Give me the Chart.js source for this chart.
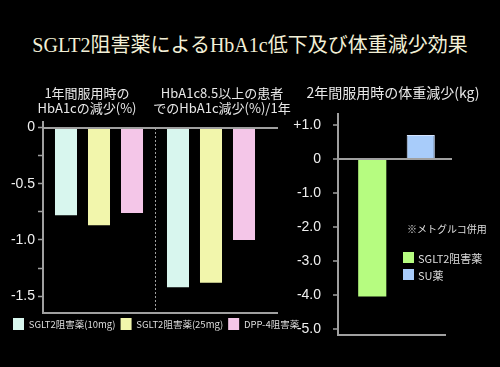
<!DOCTYPE html>
<html>
<head>
<meta charset="utf-8">
<script src="https://cdn.jsdelivr.net/npm/chart.js@4"></script>
<style>
  body { margin: 0; background: #000; width: 500px; height: 367px; position: relative; overflow: hidden; }
  #title { position: absolute; left: 0; top: 33px; width: 500px; text-align: center; color: #f2efd6;
           font: 20px/24px "Liberation Serif", "Noto Sans CJK JP", serif; }
  .box { position: absolute; }
  #note { position: absolute; left: 407px; top: 222px; color: #dddddd; font: 10px/14px "Noto Sans CJK JP", sans-serif; }
  #wlegend { position: absolute; left: 403px; top: 252px; }
  #wlegend div { height: 17px; color: #dddddd; font: 11px/12px "Noto Sans CJK JP", sans-serif; white-space: nowrap; }
  #wlegend span { display: inline-block; width: 11px; height: 11px; vertical-align: top; margin-right: 4px; }
</style>
</head>
<body>
<div id="title">SGLT2阻害薬によるHbA1c低下及び体重減少効果</div>
<div class="box" style="left:0;top:0;width:330px;height:367px"><canvas id="hba"></canvas></div>
<div class="box" style="left:290px;top:0;width:210px;height:367px"><canvas id="weight"></canvas></div>
<div id="note">※メトグルコ併用</div>
<div id="wlegend"></div>
<script>
// ---- data ----
var hbaGroups = [['1年間服用時の', 'HbA1cの減少(%)'], ['HbA1c8.5以上の患者', 'でのHbA1c減少(%)/1年']];
var drugNames = ['SGLT2阻害薬(10mg)', 'SGLT2阻害薬(25mg)', 'DPP-4阻害薬'];
var sglt10 = [-0.78, -1.42];
var sglt25 = [-0.87, -1.38];
var dpp4 = [-0.76, -1.00];
var hbaTicks = [0, -0.25, -0.5, -0.75, -1.0, -1.25, -1.5];

var weightTitle = ['2年間服用時の体重減少(kg)'];
var weightNames = ['SGLT2阻害薬', 'SU薬'];
var weightValues = [-4.05, 0.7];
var weightTicks = [1, 0.5, 0, -0.5, -1, -1.5, -2, -2.5, -3, -3.5, -4, -4.5, -5];

var axisColor = '#a0a0a0';
var tickFont = { family: "'Liberation Sans', sans-serif", size: 14 };

// draws zero line, bottom line, group divider, the headings
// and (when axisShift is set) the y axis line with its tick marks
var extras = {
    id: 'extras',
    afterDraw: function (chart, args, opts) {
        var ctx = chart.ctx, a = chart.chartArea, x = chart.scales.x, y = chart.scales.y;
        var ax = a.left + (opts.axisShift || 0);
        ctx.save();
        ctx.strokeStyle = axisColor;
        ctx.lineWidth = 2;
        var y0 = Math.round(y.getPixelForValue(0));
        ctx.beginPath();
        ctx.moveTo(ax, y0);
        ctx.lineTo(a.right + opts.zeroExt, y0);
        ctx.moveTo(ax, a.bottom);
        ctx.lineTo(a.right + opts.bottomExt, a.bottom);
        if (opts.axisShift) {
            ctx.moveTo(ax, a.top);
            ctx.lineTo(ax, a.bottom + 1);
        }
        ctx.stroke();
        if (opts.axisShift) {
            ctx.lineWidth = 1.5;
            ctx.beginPath();
            y.ticks.forEach(function (t) {
                var py = Math.round(y.getPixelForValue(t.value));
                ctx.moveTo(ax - 5, py);
                ctx.lineTo(ax, py);
            });
            ctx.stroke();
        }
        if (opts.divider) {
            var xd = Math.round((x.getPixelForValue(0) + x.getPixelForValue(1)) / 2) + 0.5;
            ctx.lineWidth = 1;
            ctx.setLineDash([2, 2]);
            ctx.beginPath();
            ctx.moveTo(xd, y0);
            ctx.lineTo(xd, a.bottom);
            ctx.stroke();
            ctx.setLineDash([]);
        }
        ctx.fillStyle = '#e8e8e8';
        ctx.textAlign = 'center';
        ctx.textBaseline = 'middle';
        ctx.font = opts.headFont;
        opts.headings.forEach(function (lines, i) {
            lines.forEach(function (t, j) {
                ctx.fillText(t, opts.headX[i], opts.headY + j * 15);
            });
        });
        ctx.restore();
    }
};

function yLabel(v, plus) {
    if (v === 0) return '0';
    return (plus && v > 0 ? '+' : '') + v.toFixed(1);
}

new Chart(document.getElementById('hba'), {
    type: 'bar',
    data: {
        labels: hbaGroups.map(function (g) { return g.join(' '); }),
        datasets: [
            { label: drugNames[0], data: sglt10, backgroundColor: '#d8f6ee' },
            { label: drugNames[1], data: sglt25, backgroundColor: '#f2f6ac' },
            { label: drugNames[2], data: dpp4, backgroundColor: '#f4c6e8' }
        ]
    },
    options: {
        responsive: true,
        maintainAspectRatio: false,
        animation: false,
        categoryPercentage: 0.884,
        barPercentage: 0.667,
        layout: { padding: { left: 8, right: 0, top: 122, bottom: 27 } },
        scales: {
            x: { display: false },
            y: {
                min: -1.65, max: 0.05,
                afterBuildTicks: function (s) { s.ticks = hbaTicks.map(function (v) { return { value: v }; }); },
                afterFit: function (s) { s.width = 35; },
                border: { display: true, color: axisColor, width: 2 },
                grid: { drawOnChartArea: false, drawTicks: true, tickLength: 5, tickColor: axisColor, tickWidth: 1.5 },
                ticks: {
                    color: '#f0f0f0', font: tickFont, padding: 3,
                    callback: function (v) { return Math.abs(v * 2 - Math.round(v * 2)) < 1e-6 ? yLabel(v, false) : ''; }
                }
            },
            // empty axis that only keeps room on the right side
            yPad: {
                position: 'right',
                afterFit: function (s) { s.width = 63; },
                border: { display: false },
                grid: { display: false },
                ticks: { display: false }
            }
        },
        plugins: {
            legend: {
                position: 'bottom',
                align: 'start',
                labels: { color: '#dddddd', boxWidth: 11, boxHeight: 12, padding: 5,
                          font: { family: "'Noto Sans CJK JP', sans-serif", size: 9.5 } }
            },
            tooltip: { enabled: false },
            extras: { zeroExt: 11, bottomExt: 11, divider: true, headings: hbaGroups, headX: [87, 222], headY: 93,
                      headFont: "13px 'Noto Sans CJK JP', sans-serif" }
        }
    },
    plugins: [extras]
});

var weightColors = ['#b6fc80', '#a8ccfa'];
new Chart(document.getElementById('weight'), {
    type: 'bar',
    data: {
        labels: weightNames,
        datasets: weightNames.map(function (name, i) {
            return {
                label: name,
                data: weightValues.map(function (v, j) { return j === i ? v : null; }),
                backgroundColor: weightColors[i],
                borderColor: i === 1 ? '#d4e4ff' : weightColors[i],
                borderWidth: i === 1 ? 1 : 0,
                grouped: false
            };
        })
    },
    options: {
        responsive: true,
        maintainAspectRatio: false,
        animation: false,
        categoryPercentage: 1,
        barPercentage: 0.58,
        layout: { padding: { left: 0, right: 55, top: 113, bottom: 32 } },
        scales: {
            x: { display: false },
            y: {
                min: -5.18, max: 1.35,
                afterBuildTicks: function (s) { s.ticks = weightTicks.map(function (v) { return { value: v }; }); },
                afterFit: function (s) { s.width = 58; },
                border: { display: false },
                grid: { display: false },
                ticks: {
                    color: '#f0f0f0', font: tickFont, padding: 19,
                    callback: function (v) { return Number.isInteger(v) ? yLabel(v, true) : ''; }
                }
            }
        },
        plugins: {
            legend: { display: false },
            tooltip: { enabled: false },
            extras: { axisShift: -10, zeroExt: 7, bottomExt: 1, divider: false, headings: [weightTitle], headX: [103], headY: 93,
                      headFont: "14px 'Noto Sans CJK JP', sans-serif" }
        }
    },
    plugins: [extras]
});

// legend for the weight chart
var wl = document.getElementById('wlegend');
weightNames.forEach(function (name, i) {
    var row = document.createElement('div');
    var sw = document.createElement('span');
    sw.style.background = weightColors[i];
    row.appendChild(sw);
    row.appendChild(document.createTextNode(name));
    wl.appendChild(row);
});
</script>
</body>
</html>
